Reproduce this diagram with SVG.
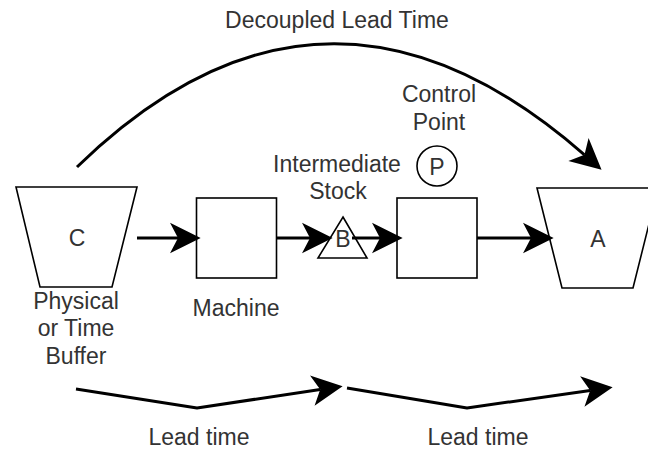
<svg xmlns="http://www.w3.org/2000/svg" width="648" height="450" viewBox="0 0 648 450">
  <style>
    .shape { fill: #ffffff; stroke: #000000; stroke-width: 1.6; }
    .edge { fill: none; stroke: #000000; stroke-width: 3; stroke-linejoin: round; }
    text { font-family: "Liberation Sans", Arial, Helvetica, sans-serif; font-size: 23px; fill: #333333; text-anchor: middle; }
  </style>
  <defs>
    <marker id="arrow" markerUnits="userSpaceOnUse" markerWidth="40" markerHeight="40" viewBox="-10 -15 30 30" refX="0" refY="0" orient="auto" overflow="visible">
      <path d="M17,0 L-6,-11.5 L0,0 L-6,11.5 Z" fill="#000000" stroke="none"/>
    </marker>
  </defs>
  <rect width="648" height="450" fill="#ffffff"/>

  <g id="label-decoupled">
    <text x="337" y="28">Decoupled Lead Time</text>
  </g>

  <g id="node-c">
    <polygon class="shape" points="16,187 137,187 112,287 40,287"/>
    <text x="77" y="246">C</text>
  </g>
  <g id="label-buffer">
    <text x="76" y="309">Physical</text>
    <text x="76" y="336">or Time</text>
    <text x="76" y="364">Buffer</text>
  </g>

  <g id="node-machine">
    <rect class="shape" x="196.5" y="198" width="80" height="80"/>
  </g>
  <g id="label-machine">
    <text x="236" y="316">Machine</text>
  </g>

  <g id="node-stock">
    <polygon class="shape" points="343,217 367,258 318,258"/>
    <text x="343" y="247">B</text>
  </g>
  <g id="label-stock">
    <text x="337" y="172">Intermediate</text>
    <text x="338" y="199">Stock</text>
  </g>

  <g id="node-control-point">
    <circle class="shape" cx="437" cy="166" r="20"/>
    <text x="437" y="175">P</text>
  </g>
  <g id="label-control">
    <text x="439" y="102">Control</text>
    <text x="439" y="130">Point</text>
  </g>

  <g id="node-process">
    <rect class="shape" x="397" y="198" width="80" height="80"/>
  </g>

  <g id="node-a">
    <polygon class="shape" points="537,188 658,188 633,288 562,288"/>
    <text x="598" y="247">A</text>
  </g>

  <g id="labels-lead">
    <text x="199" y="445">Lead time</text>
    <text x="478" y="445">Lead time</text>
  </g>

  <g id="connectors">
    <path class="edge" d="M77,167 Q324.1,-73.2 584.5,154.8" marker-end="url(#arrow)"/>
    <path class="edge" d="M137,238 L178,238" marker-end="url(#arrow)"/>
    <path class="edge" d="M277,238 L310,238" marker-end="url(#arrow)"/>
    <path class="edge" d="M352,238 L380,238" marker-end="url(#arrow)"/>
    <path class="edge" d="M477,238 L531,238" marker-end="url(#arrow)"/>
    <path class="edge" d="M76,389 L197,408 L320.2,389.5" marker-end="url(#arrow)"/>
    <path class="edge" d="M347,388 L467,408 L590.2,390.4" marker-end="url(#arrow)"/>
  </g>
</svg>
